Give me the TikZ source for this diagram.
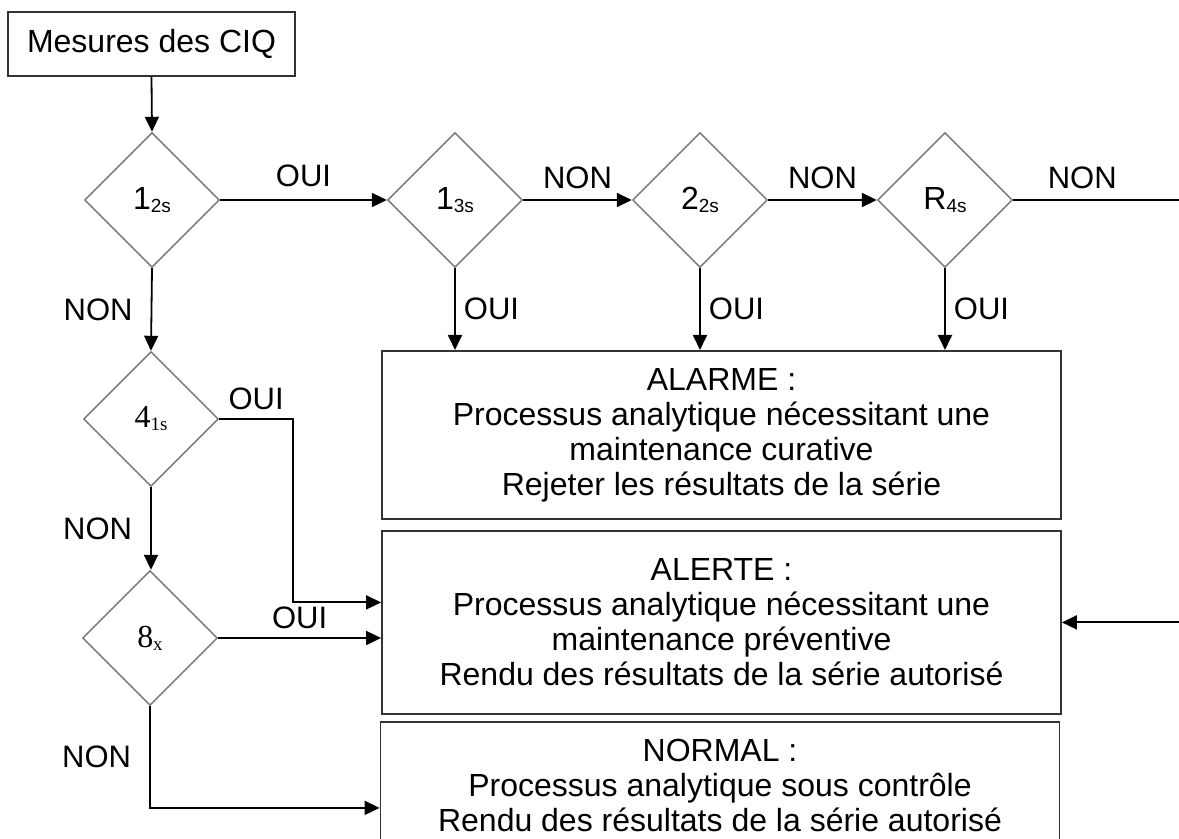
\documentclass[tikz,border=0pt]{standalone}
\usepackage{fontspec}
\setmainfont{Liberation Sans}
\newfontfamily\chiffreserif{Liberation Serif}
\usetikzlibrary{shapes.geometric,arrows.meta}

\newcommand{\regle}[2]{#1\raisebox{-1.5pt}{\fontsize{9.5}{10}\selectfont #2}}

\begin{document}
\begin{tikzpicture}[x=0.5pt,y=-0.5pt]
\tikzset{
  texte/.style={font=\fontsize{16}{17.5}\selectfont},
  etiquette/.style={font=\fontsize{15.5}{17}\selectfont, inner sep=3pt},
  cadre/.style={texte, rectangle, draw=black!80, line width=0.9pt},
  bloc/.style={cadre, align=center, minimum width=339.5pt, anchor=north},
  losange/.style={texte, diamond, draw=black!55, line width=0.7pt,
    minimum width=67.5pt, minimum height=67.5pt, inner sep=0pt},
  fleche/.style={draw, line width=0.9pt, -{Triangle[length=7.5pt,width=7pt]}}
}
\useasboundingbox (0,0) rectangle (1179,839);
\clip (0,0) rectangle (1179,839);

% point de depart
\node[cadre, minimum width=143.5pt, minimum height=32pt] (mesures) at (151.5,44) {Mesures des CIQ};

% regles de Westgard
\node[losange] (d12s) at (152,200) {\regle{1}{2s}};
\node[losange] (d13s) at (455,200) {\regle{1}{3s}};
\node[losange] (d22s) at (700,200) {\regle{2}{2s}};
\node[losange] (dR4s) at (945,200) {\regle{R}{4s}};
\node[losange] (d41s) at (151,419) {\chiffreserif\regle{4}{1s}};
\node[losange] (d8x) at (150,638) {\chiffreserif\regle{8}{x}};

% conclusions
\node[bloc, minimum height=84pt] (alarme) at (721.5,350)
  {ALARME :\\ Processus analytique nécessitant une\\ maintenance curative\\ Rejeter les résultats de la série};
\node[bloc, minimum height=91.5pt] (alerte) at (721.5,530)
  {ALERTE :\\ Processus analytique nécessitant une\\ maintenance préventive\\ Rendu des résultats de la série autorisé};
\node[bloc, minimum height=64pt] (normal) at (720,721)
  {NORMAL :\\ Processus analytique sous contrôle\\ Rendu des résultats de la série autorisé};

\coordinate (coude) at (293,419);
\coordinate (retour) at (1195,200);

% liaisons
\draw[fleche] (mesures.south) -- (d12s.north);
\draw[fleche] (d12s.east) -- node[etiquette, above=3pt]{OUI} (d13s.west);
\draw[fleche] (d13s.east) -- node[etiquette, above=2pt]{NON} (d22s.west);
\draw[fleche] (d22s.east) -- node[etiquette, above=2pt]{NON} (dR4s.west);
\draw[fleche] (dR4s.east) -- node[etiquette, above=2pt, pos=0.38]{NON} (retour) |- (alerte.east);
\draw[fleche] (d13s.south) -- node[etiquette, right=1pt]{OUI} (d13s.south |- alarme.north);
\draw[fleche] (d22s.south) -- node[etiquette, right=1pt]{OUI} (d22s.south |- alarme.north);
\draw[fleche] (dR4s.south) -- node[etiquette, right=1pt]{OUI} (dR4s.south |- alarme.north);
\draw[fleche] (d12s.south) -- node[etiquette, left=6pt]{NON} (d41s.north);
\draw[fleche] (d41s.south) -- node[etiquette, left=6pt]{NON} (d41s.south |- d8x.north);
\draw[fleche] (d41s.east) -- node[etiquette, above=1pt]{OUI} (coude) |- ([yshift=10pt]alerte.west);
\draw[fleche] (d8x.east) -- node[etiquette, above=1pt]{OUI} (d8x.east -| alerte.west);
\draw[fleche] (d8x.south) |- node[etiquette, left=6pt, pos=0.25]{NON} ([yshift=-11pt]normal.west);
\end{tikzpicture}
\end{document}
